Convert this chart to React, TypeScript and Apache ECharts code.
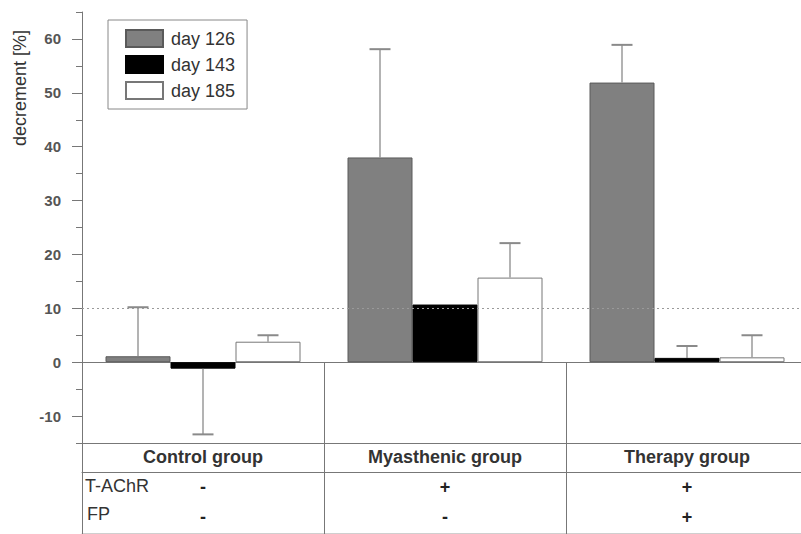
import React, { useEffect, useRef } from "react";
import * as echarts from "echarts";

// Groups and their measured decrement values (mean and end of the error bar)
const categories = ["Control group", "Myasthenic group", "Therapy group"];
const seriesNames = ["day 126", "day 143", "day 185"];
const day126 = [1.1, 38.0, 51.9];
const day126Err = [10.2, 58.1, 58.9];
const day143 = [-1.2, 10.7, 0.8];
const day143Err: (number | null)[] = [-13.4, null, 3.0];
const day185 = [3.8, 15.7, 0.9];
const day185Err = [5.0, 22.1, 5.0];

// Treatment table rows under the groups
const tAChR = ["-", "+", "+"];
const fp = ["-", "-", "+"];

// Y axis ticks
const majorTicks = [-10, 0, 10, 20, 30, 40, 50, 60];
const minorTicks = [-15, -5, 5, 15, 25, 35, 45, 55, 65];
const referenceLevel = 10;

const FONT = "'Liberation Sans', Arial, Helvetica, sans-serif";
const BAR_W = 65;
const CAP_W = 21;
const AXIS_COLOR = "#777";
const ERR_COLOR = "#8a8a8a";

export default function App() {
  const ref = useRef<HTMLDivElement>(null);

  useEffect(() => {
    if (!ref.current) return;
    const chart = echarts.init(ref.current, null, { renderer: "svg" });

    const values = [day126, day143, day185];
    const errs = [day126Err, day143Err, day185Err];
    const errData: number[][] = [];
    values.forEach((vals, s) => {
      vals.forEach((v, i) => {
        const e = errs[s][i];
        if (e !== null && e !== undefined) errData.push([i, v, e, s]);
      });
    });

    const barStyles = [
      { color: "#808080", borderColor: "#5a5a5a", borderWidth: 1 },
      { color: "#000000", borderColor: "#000000", borderWidth: 1 },
      { color: "#ffffff", borderColor: "#777777", borderWidth: 1 },
    ];

    const barSeries: any[] = values.map((vals, s) => ({
      name: seriesNames[s],
      type: "bar",
      xAxisIndex: 0,
      yAxisIndex: 0,
      data: vals,
      barWidth: BAR_W,
      barGap: "0%",
      itemStyle: barStyles[s],
      emphasis: { disabled: true },
      z: 2,
    }));
    barSeries[0].markLine = {
      silent: true,
      symbol: "none",
      label: { show: false },
      lineStyle: { type: [2, 3], color: "#9a9a9a", width: 1 },
      data: [{ yAxis: referenceLevel }],
      z: 5,
    };

    const catAxisBase = {
      type: "category",
      data: categories,
      gridIndex: 0,
      splitLine: { show: false },
    };

    chart.setOption({
      animation: false,
      backgroundColor: "#ffffff",
      textStyle: { fontFamily: FONT },
      // the plot runs a little past the right edge of the visible area
      grid: { left: 82, right: 8, top: 12, bottom: 91, containLabel: false },
      legend: {
        data: seriesNames,
        orient: "vertical",
        left: 108,
        top: 20,
        icon: "rect",
        itemWidth: 37,
        itemHeight: 17,
        itemGap: 7,
        padding: [9, 12, 9, 17],
        borderColor: "#888",
        borderWidth: 1,
        selectedMode: false,
        textStyle: {
          fontFamily: FONT,
          fontSize: 18,
          color: "#333",
          lineHeight: 17,
          padding: [0, 0, 0, 3],
        },
      },
      xAxis: [
        {
          // zero line with the group dividers reaching down through the table
          ...catAxisBase,
          axisLine: { onZero: true, lineStyle: { color: AXIS_COLOR, width: 1 } },
          axisTick: { show: true, inside: false, length: 172, lineStyle: { color: AXIS_COLOR, width: 1 } },
          axisLabel: { show: false },
        },
        {
          // group names row
          ...catAxisBase,
          position: "bottom",
          offset: 0,
          axisLine: { onZero: false, lineStyle: { color: AXIS_COLOR, width: 1 } },
          axisTick: { show: false },
          axisLabel: {
            margin: 5,
            fontFamily: FONT,
            fontSize: 18,
            fontWeight: "bold",
            color: "#333",
            lineHeight: 18,
          },
        },
        {
          // treatment rows
          ...catAxisBase,
          position: "bottom",
          offset: 29,
          axisLine: { onZero: false, lineStyle: { color: AXIS_COLOR, width: 1 } },
          axisTick: { show: false },
          axisLabel: {
            margin: 0,
            fontFamily: FONT,
            fontSize: 18,
            fontWeight: "bold",
            color: "#222",
            lineHeight: 30,
            formatter: (_v: string, i: number) => `${tAChR[i]}\n${fp[i]}`,
          },
        },
        {
          // bottom edge of the table
          ...catAxisBase,
          position: "bottom",
          offset: 90,
          axisLine: { onZero: false, lineStyle: { color: "#cfcfcf", width: 1 } },
          axisTick: { show: false },
          axisLabel: { show: false },
        },
      ],
      yAxis: [
        {
          type: "value",
          min: -15,
          max: 65,
          position: "left",
          splitLine: { show: false },
          axisLine: { show: true, lineStyle: { color: AXIS_COLOR, width: 1 } },
          axisTick: {
            show: true,
            length: 6,
            customValues: minorTicks,
            lineStyle: { color: AXIS_COLOR, width: 1 },
          },
          axisLabel: { show: false },
        },
        {
          type: "value",
          min: -15,
          max: 65,
          position: "left",
          offset: 0,
          splitLine: { show: false },
          axisLine: { show: false },
          axisTick: {
            show: true,
            length: 10,
            customValues: majorTicks,
            lineStyle: { color: AXIS_COLOR, width: 1 },
          },
          axisLabel: {
            customValues: majorTicks,
            margin: 21,
            fontFamily: FONT,
            fontSize: 15,
            fontWeight: "bold",
            color: "#555",
          },
        },
      ],
      graphic: [
        {
          type: "text",
          x: 20,
          y: 88,
          rotation: Math.PI / 2,
          style: {
            text: "decrement [%]",
            fontFamily: FONT,
            fontSize: 18,
            fill: "#333",
            align: "center",
            verticalAlign: "middle",
          },
        },
        {
          type: "text",
          x: 85,
          y: 486,
          style: {
            text: "T-AChR",
            fontFamily: FONT,
            fontSize: 18,
            fill: "#333",
            align: "left",
            verticalAlign: "middle",
          },
        },
        {
          type: "text",
          x: 87,
          y: 514,
          style: {
            text: "FP",
            fontFamily: FONT,
            fontSize: 18,
            fill: "#333",
            align: "left",
            verticalAlign: "middle",
          },
        },
      ],
      series: [
        ...barSeries,
        {
          type: "custom",
          name: "errors",
          xAxisIndex: 0,
          yAxisIndex: 0,
          z: 3,
          silent: true,
          data: errData,
          encode: { x: 0, y: 1 },
          renderItem: (_params: any, api: any) => {
            const cat = api.value(0);
            const v = api.value(1);
            const e = api.value(2);
            const slot = api.value(3);
            const base = api.coord([cat, v]);
            const end = api.coord([cat, e]);
            const x = base[0] + (slot - 1) * BAR_W;
            const style = { stroke: ERR_COLOR, lineWidth: 1.3 };
            return {
              type: "group",
              children: [
                { type: "line", shape: { x1: x, y1: base[1], x2: x, y2: end[1] }, style },
                {
                  type: "line",
                  shape: { x1: x - CAP_W / 2, y1: end[1], x2: x + CAP_W / 2, y2: end[1] },
                  style: { stroke: ERR_COLOR, lineWidth: 2 },
                },
              ],
            };
          },
        },
      ],
    });

    return () => chart.dispose();
  }, []);

  return (
    <div style={{ position: "fixed", left: 0, top: 0, width: 801, height: 534, overflow: "hidden" }}>
      <div ref={ref} style={{ width: 816, height: 534 }} />
    </div>
  );
}
